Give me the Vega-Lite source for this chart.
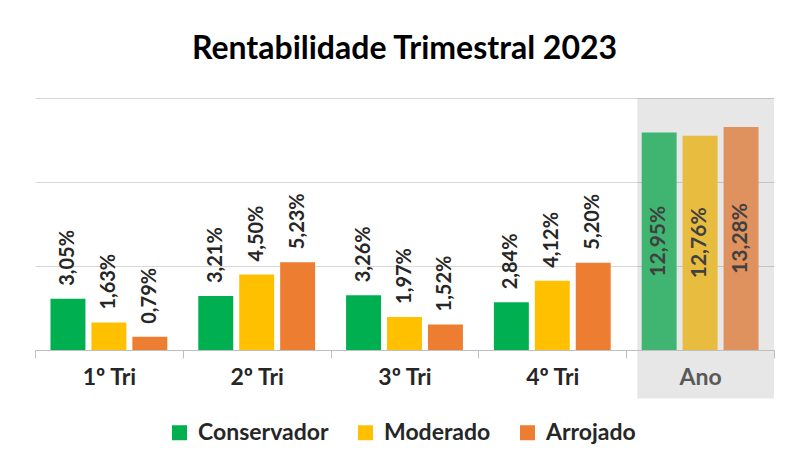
{
  "$schema": "https://vega.github.io/schema/vega-lite/v6.json",
  "width": 739,
  "height": 252,
  "autosize": "none",
  "padding": {"left": 35, "top": 98, "right": 12, "bottom": 112},
  "background": "white",
  "config": {
    "locale": {"number": {"decimal": ",", "thousands": ".", "grouping": [3], "currency": ["R$", ""]}},
    "view": {"stroke": null}
  },
  "title": {"text": "Rentabilidade Trimestral 2023", "font": "Lato", "fontSize": 32, "fontWeight": "bold", "color": "#000000", "offset": 32},
  "data": {"values": [
    {"periodo": "1º Tri", "perfil": "Conservador", "valor": 0.0305},
    {"periodo": "1º Tri", "perfil": "Moderado", "valor": 0.0163},
    {"periodo": "1º Tri", "perfil": "Arrojado", "valor": 0.0079},
    {"periodo": "2º Tri", "perfil": "Conservador", "valor": 0.0321},
    {"periodo": "2º Tri", "perfil": "Moderado", "valor": 0.0450},
    {"periodo": "2º Tri", "perfil": "Arrojado", "valor": 0.0523},
    {"periodo": "3º Tri", "perfil": "Conservador", "valor": 0.0326},
    {"periodo": "3º Tri", "perfil": "Moderado", "valor": 0.0197},
    {"periodo": "3º Tri", "perfil": "Arrojado", "valor": 0.0152},
    {"periodo": "4º Tri", "perfil": "Conservador", "valor": 0.0284},
    {"periodo": "4º Tri", "perfil": "Moderado", "valor": 0.0412},
    {"periodo": "4º Tri", "perfil": "Arrojado", "valor": 0.0520},
    {"periodo": "Ano", "perfil": "Conservador", "valor": 0.1295},
    {"periodo": "Ano", "perfil": "Moderado", "valor": 0.1276},
    {"periodo": "Ano", "perfil": "Arrojado", "valor": 0.1328}
  ]},
  "encoding": {
    "x": {
      "field": "periodo", "type": "nominal",
      "sort": ["1º Tri", "2º Tri", "3º Tri", "4º Tri", "Ano"],
      "scale": {"paddingInner": 0, "paddingOuter": 0},
      "axis": {
        "title": null, "labelAngle": 0, "labelFont": "Lato", "labelFontSize": 23, "labelFontWeight": "bold",
        "labelColor": {"condition": {"test": "datum.value == 'Ano'", "value": "#595959"}, "value": "#262626"},
        "labelPadding": 8, "tickBand": "extent", "tickSize": 8, "tickColor": "#bfbfbf", "domainColor": "#bfbfbf",
        "grid": false, "zindex": 1
      }
    }
  },
  "layer": [
    {
      "data": {"values": [{"periodo": "Ano"}]},
      "mark": {"type": "rect", "fill": "#000000", "opacity": 0.094},
      "encoding": {
        "x": {"field": "periodo", "type": "nominal", "bandPosition": 0.075},
        "x2": {"field": "periodo", "bandPosition": 1},
        "y": {"datum": 0.15},
        "y2": {"datum": -0.0288}
      }
    },
    {
      "transform": [{"filter": "datum.periodo != 'Ano'"}],
      "mark": {"type": "bar"},
      "encoding": {
        "xOffset": {"field": "perfil", "type": "nominal", "sort": ["Conservador", "Moderado", "Arrojado"], "scale": {"paddingInner": 0.146, "paddingOuter": 0.378}},
        "y": {"field": "valor", "type": "quantitative", "scale": {"domain": [0, 0.15], "nice": false, "zero": true},
          "axis": {"title": null, "labels": false, "ticks": false, "domain": false, "grid": true, "gridColor": "#d9d9d9", "values": [0, 0.05, 0.1, 0.15]}},
        "color": {"field": "perfil", "type": "nominal",
          "scale": {"domain": ["Conservador", "Moderado", "Arrojado"], "range": ["#00B050", "#FFC000", "#ED7D31"]},
          "legend": {"title": null, "orient": "none", "legendX": 133, "legendY": 323, "direction": "horizontal",
            "symbolType": "square", "symbolSize": 225, "symbolStrokeWidth": 0, "labelFont": "Lato", "labelFontSize": 23,
            "labelFontWeight": "bold", "labelColor": "#262626", "columnPadding": 25, "labelOffset": 7}}
      }
    },
    {
      "transform": [{"filter": "datum.periodo == 'Ano'"}],
      "mark": {"type": "bar"},
      "encoding": {
        "xOffset": {"field": "perfil", "type": "nominal", "sort": ["Conservador", "Moderado", "Arrojado"]},
        "y": {"field": "valor", "type": "quantitative"},
        "fill": {"field": "perfil", "type": "nominal",
          "scale": {"domain": ["Conservador", "Moderado", "Arrojado"], "range": ["#3FB571", "#E8BC3E", "#DF915E"]},
          "legend": null}
      }
    },
    {
      "transform": [{"filter": "datum.periodo != 'Ano'"}],
      "mark": {"type": "text", "angle": 270, "align": "left", "baseline": "middle", "dx": 13, "font": "Lato", "fontSize": 20, "fontWeight": "bold", "color": "#262626"},
      "encoding": {
        "xOffset": {"field": "perfil", "type": "nominal", "sort": ["Conservador", "Moderado", "Arrojado"]},
        "y": {"field": "valor", "type": "quantitative"},
        "text": {"field": "valor", "type": "quantitative", "format": ".2%"}
      }
    },
    {
      "transform": [{"filter": "datum.periodo == 'Ano'"}, {"calculate": "datum.valor / 2", "as": "meio"}],
      "mark": {"type": "text", "angle": 270, "align": "center", "baseline": "middle", "font": "Lato", "fontSize": 21, "fontWeight": "bold", "color": "#404040"},
      "encoding": {
        "xOffset": {"field": "perfil", "type": "nominal", "sort": ["Conservador", "Moderado", "Arrojado"]},
        "y": {"field": "meio", "type": "quantitative"},
        "text": {"field": "valor", "type": "quantitative", "format": ".2%"}
      }
    }
  ]
}
